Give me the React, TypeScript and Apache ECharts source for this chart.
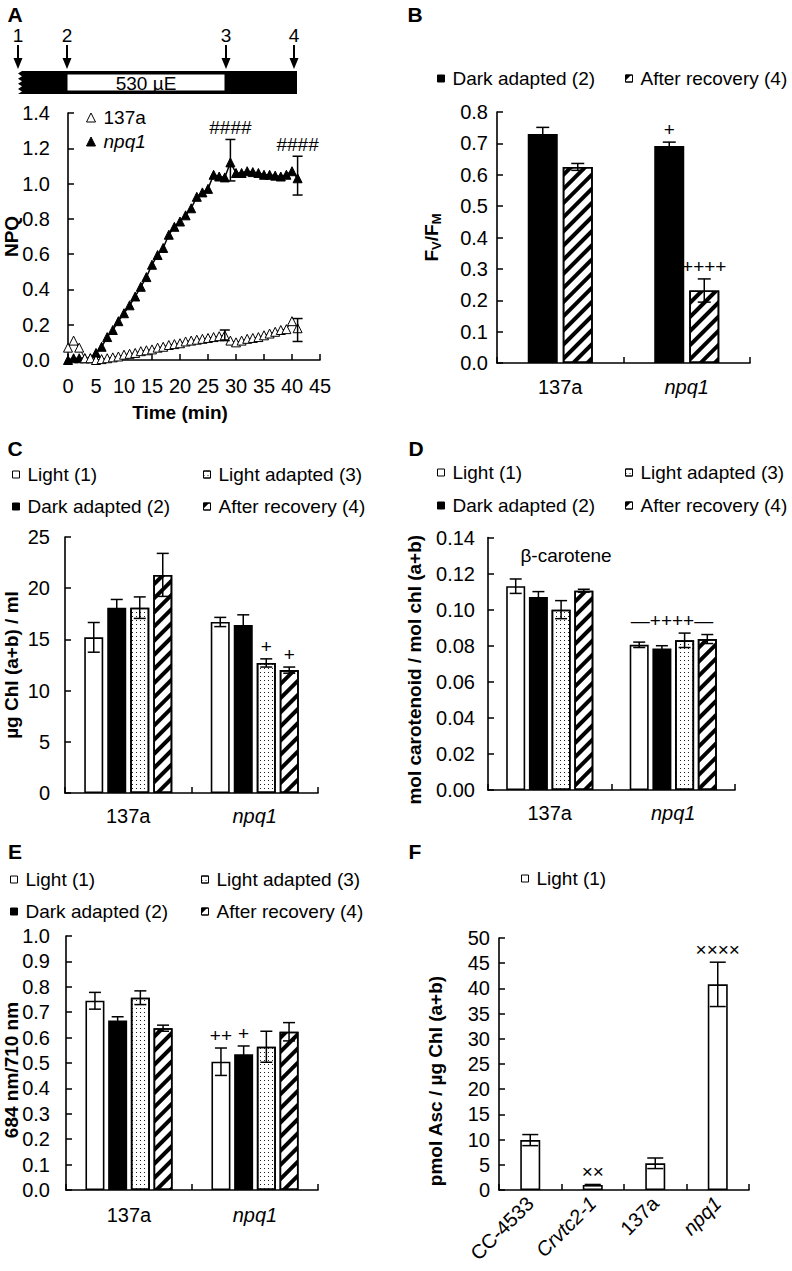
import React, { useEffect, useRef } from 'react';
import * as echarts from 'echarts';

const FONT = '"Liberation Sans", Arial, Helvetica, sans-serif';
const TICK_FS = 20;
const LEG_FS = 19;

// ---------- Panel A : NPQ time course ----------
const timeMin = [0, 1, 2, 3, 4, 5, 6, 7, 8, 9, 10, 11, 12, 13, 14, 15, 16, 17, 18, 19, 20,
  21, 22, 23, 24, 25, 26, 27, 28, 29, 30, 31, 32, 33, 34, 35, 36, 37, 38, 39, 40, 41];
const npq137a = [0.07, 0.11, 0.07, 0.01, 0.01, 0.0, 0.005, 0.01, 0.015, 0.02, 0.03, 0.035, 0.04, 0.05,
  0.055, 0.06, 0.07, 0.075, 0.085, 0.09, 0.095, 0.105, 0.11, 0.115, 0.12, 0.125, 0.13, 0.135, 0.14,
  0.11, 0.10, 0.11, 0.12, 0.125, 0.13, 0.14, 0.15, 0.16, 0.17, 0.175, 0.22, 0.18];
const npqNpq1 = [0.0, 0.01, 0.01, 0.01, 0.01, 0.04, 0.075, 0.13, 0.17, 0.22, 0.265, 0.31, 0.36, 0.415,
  0.47, 0.54, 0.595, 0.635, 0.71, 0.755, 0.785, 0.82, 0.86, 0.925, 0.95, 0.97, 1.05, 1.04, 1.035,
  1.12, 1.06, 1.06, 1.07, 1.065, 1.06, 1.05, 1.05, 1.045, 1.04, 1.05, 1.07, 1.03];
const aErrTime = [29, 41, 28, 41];
const aErrLow = [1.015, 0.935, 0.11, 0.105];
const aErrHigh = [1.25, 1.155, 0.17, 0.235];
const aNotes = ['####', '####', '', ''];

// ---------- Bar panels ----------
const strainCats = ['137a', 'npq1'];

// B: Fv/Fm
const bDark = [0.73, 0.692];
const bDarkErr = [0.021, 0.012];
const bRec = [0.625, 0.231];
const bRecErr = [0.011, 0.037];
const bDarkNotes = ['', '+'];
const bRecNotes = ['', '++++'];

// C: ug Chl / ml
const cLight = [15.2, 16.7];
const cLightErr = [1.45, 0.45];
const cDark = [18.1, 16.4];
const cDarkErr = [0.8, 1.0];
const cLA = [18.1, 12.7];
const cLAErr = [1.05, 0.4];
const cAR = [21.3, 12.0];
const cARErr = [2.1, 0.3];
const cLANotes = ['', '+'];
const cARNotes = ['', '+'];

// D: beta-carotene
const dLight = [0.113, 0.0805];
const dLightErr = [0.004, 0.0015];
const dDark = [0.107, 0.0785];
const dDarkErr = [0.003, 0.0015];
const dLA = [0.1, 0.083];
const dLAErr = [0.005, 0.004];
const dAR = [0.1105, 0.0837];
const dARErr = [0.0008, 0.0025];

// E: 684/710
const eLight = [0.745, 0.505];
const eLightErr = [0.033, 0.054];
const eDark = [0.667, 0.534];
const eDarkErr = [0.015, 0.033];
const eLA = [0.757, 0.564];
const eLAErr = [0.027, 0.061];
const eAR = [0.637, 0.623];
const eARErr = [0.012, 0.036];
const eLightNotes = ['', '++'];
const eDarkNotes = ['', '+'];

// F: ascorbate
const fCats = ['CC-4533', 'Crvtc2-1', '137a', 'npq1'];
const fVals = [9.9, 1.0, 5.3, 40.8];
const fErr = [1.1, 0.1, 1.05, 4.4];
const fNotes = ['', '××', '', '××××'];

const yTicksA = { min: 0, max: 1.4, interval: 0.2 };
const yTicksB = { min: 0, max: 0.8, interval: 0.1 };
const yTicksC = { min: 0, max: 25, interval: 5 };
const yTicksD = { min: 0, max: 0.14, interval: 0.02 };
const yTicksE = { min: 0, max: 1.0, interval: 0.1 };
const yTicksF = { min: 0, max: 50, interval: 5 };

const DOTS = { symbol: 'rect', symbolSize: 1, color: '#222', dashArrayX: [1, 3], dashArrayY: [1, 3], rotation: 0 };
const HATCH = { symbol: 'rect', symbolSize: 1, color: '#000', dashArrayX: [1, 0], dashArrayY: [3.5, 6], rotation: -Math.PI / 4 };

const STYLE: Record<string, any> = {
  'Light (1)': { color: '#fff', borderColor: '#000', borderWidth: 1.6 },
  'Dark adapted (2)': { color: '#000', borderColor: '#000', borderWidth: 1.6 },
  'Light adapted (3)': { color: '#fff', borderColor: '#000', borderWidth: 1.6, decal: DOTS },
  'After recovery (4)': { color: '#fff', borderColor: '#000', borderWidth: 1.6, decal: HATCH },
};

function errSeries(axis: number, data: number[][], offset: number, cap: number, notes?: string[], noteGap = 3) {
  return {
    type: 'custom',
    xAxisIndex: axis,
    yAxisIndex: axis,
    z: 10,
    silent: true,
    clip: false,
    data,
    renderItem: (params: any, api: any) => {
      const lo = api.coord([api.value(0), api.value(1)]);
      const hi = api.coord([api.value(0), api.value(2)]);
      const x = lo[0] + offset;
      const style = { stroke: '#000', lineWidth: 1.5 };
      const children: any[] = [
        { type: 'line', shape: { x1: x, y1: lo[1], x2: x, y2: hi[1] }, style },
        { type: 'line', shape: { x1: x - cap, y1: hi[1], x2: x + cap, y2: hi[1] }, style },
        { type: 'line', shape: { x1: x - cap, y1: lo[1], x2: x + cap, y2: lo[1] }, style },
      ];
      const note = notes ? notes[params.dataIndex] : '';
      if (note) {
        children.push({
          type: 'text',
          style: {
            text: note, x, y: hi[1] - noteGap,
            align: 'center', verticalAlign: 'bottom', textAlign: 'center', textVerticalAlign: 'bottom',
            fontSize: 19, fontFamily: FONT, fill: '#000',
          },
        });
      }
      return { type: 'group', children };
    },
  };
}

function barGroup(axis: number, groups: any[], barWidth: number, gap: number, cap: number) {
  const n = groups.length;
  const out: any[] = [];
  groups.forEach((g) => {
    out.push({
      type: 'bar', name: g.name, xAxisIndex: axis, yAxisIndex: axis, data: g.vals,
      barWidth, barGap: (gap / barWidth * 100).toFixed(1) + '%', itemStyle: STYLE[g.name], z: 2,
    });
  });
  groups.forEach((g, i) => {
    const data = g.vals.map((v: number, j: number) => [j, v - g.errs[j], v + g.errs[j]]);
    out.push(errSeries(axis, data, (i - (n - 1) / 2) * (barWidth + gap), cap, g.notes));
  });
  return out;
}

const axisLineStyle = { lineStyle: { color: '#000', width: 1.6 } };
const tickStyle = { inside: true, length: 6, lineStyle: { color: '#000', width: 1.5 } };
const italicRich = { i: { fontStyle: 'italic', fontSize: TICK_FS, fontFamily: FONT, color: '#000' } };
const nameStyle = { fontFamily: FONT, fontWeight: 'bold', fontSize: 19, color: '#000' };

function yAxis(grid: number, t: any, dec: number, margin: number, name: any, nameGap: number, extra: any = {}) {
  return {
    type: 'value', gridIndex: grid, min: t.min, max: t.max, interval: t.interval,
    axisLine: { show: true, ...axisLineStyle }, axisTick: { show: true, ...tickStyle },
    splitLine: { show: false },
    axisLabel: { color: '#000', fontSize: TICK_FS, fontFamily: FONT, margin, formatter: (v: number) => v.toFixed(dec) },
    name, nameLocation: 'middle', nameGap, nameMoveOverlap: false,
    nameTextStyle: { ...nameStyle, ...(extra.nameTextStyle || {}) },
  };
}

function catAxis(grid: number, cats: string[], margin: number, italic: string[], rotate = 0) {
  return {
    type: 'category', gridIndex: grid, data: cats,
    axisLine: { show: true, ...axisLineStyle }, axisTick: { show: true, ...tickStyle, alignWithLabel: false },
    splitLine: { show: false },
    axisLabel: {
      color: '#000', fontSize: TICK_FS, fontFamily: FONT, margin, rotate, interval: 0,
      formatter: (v: string) => (italic.includes(v) ? '{i|' + v + '}' : v),
      rich: italicRich,
    },
  };
}

function lg(name: string, left: number, cy: number, icon = 'rect', size = 7) {
  return {
    left, top: cy - 10, padding: 0, data: [{ name, icon }], itemWidth: size, itemHeight: size,
    selectedMode: false,
    itemStyle: { borderColor: '#000', borderWidth: 1 },
    formatter: (n: string) => (n === 'npq1' ? '{i|npq1}' : n),
    textStyle: {
      fontSize: LEG_FS, fontFamily: FONT, color: '#000', padding: [0, 0, 0, 3],
      rich: { i: { fontStyle: 'italic', fontSize: LEG_FS, fontFamily: FONT, color: '#000' } },
    },
  };
}

function txt(text: string, x: number, y: number, size: number, weight = 'normal', align = 'center') {
  return {
    type: 'text', x, y, silent: true,
    style: {
      text, x: 0, y: 0, fontSize: size, fontWeight: weight, fontFamily: FONT, fill: '#000',
      align, verticalAlign: 'middle', textAlign: align, textVerticalAlign: 'middle',
    },
  };
}

function arrow(x: number, label: string) {
  return [
    { type: 'line', shape: { x1: x, y1: 45, x2: x, y2: 62 }, style: { stroke: '#000', lineWidth: 2 } },
    { type: 'polygon', shape: { points: [[x - 4.5, 58], [x + 4.5, 58], [x, 69]] }, style: { fill: '#000' } },
    txt(label, x, 35, 19),
  ];
}

export default function App() {
  const ref = useRef<HTMLDivElement>(null);
  useEffect(() => {
    if (!ref.current) return;
    const chart = echarts.init(ref.current, undefined, { renderer: 'svg' });

    const grids = [
      { left: 68, top: 113, width: 252, height: 247 },
      { left: 497, top: 112, width: 253, height: 251 },
      { left: 65, top: 537, width: 253, height: 256 },
      { left: 488, top: 537.5, width: 247, height: 252.5 },
      { left: 66, top: 936, width: 252, height: 254 },
      { left: 499, top: 938, width: 250, height: 252 },
    ].map((g) => ({ ...g, containLabel: false, outerBoundsMode: 'none' }));

    const xAxes = [
      {
        type: 'value', gridIndex: 0, min: 0, max: 45, interval: 5,
        axisLine: { show: true, ...axisLineStyle }, axisTick: { show: true, ...tickStyle },
        splitLine: { show: false },
        axisLabel: { color: '#000', fontSize: TICK_FS, fontFamily: FONT, margin: 16 },
        name: 'Time (min)', nameLocation: 'middle', nameGap: 43,
        nameTextStyle: { ...nameStyle, padding: [0, 28, 0, 0] },
      },
      catAxis(1, strainCats, 14, ['npq1']),
      catAxis(2, strainCats, 13, ['npq1']),
      catAxis(3, strainCats, 13, ['npq1']),
      catAxis(4, strainCats, 15, ['npq1']),
      catAxis(5, fCats, 10, ['Crvtc2-1', 'npq1'], 45),
    ];

    const yAxes = [
      yAxis(0, yTicksA, 1, 18, 'NPQ', 47),
      yAxis(1, yTicksB, 1, 9, '{a|F}{s|V}{a|/F}{s|M}', 54, {
        nameTextStyle: {
          rich: {
            a: { fontFamily: FONT, fontWeight: 'bold', fontSize: 19, lineHeight: 24, color: '#000' },
            s: { fontFamily: FONT, fontWeight: 'bold', fontSize: 13, lineHeight: 13, verticalAlign: 'bottom', color: '#000' },
          },
        },
      }),
      yAxis(2, yTicksC, 0, 15, 'µg Chl (a+b) / ml', 44),
      yAxis(3, yTicksD, 2, 13, 'mol carotenoid / mol chl (a+b)', 64, { nameTextStyle: { padding: [0, 12, 0, 0] } }),
      yAxis(4, yTicksE, 1, 16, '684 nm/710 nm', 45, { nameTextStyle: { padding: [0, 14, 0, 0] } }),
      yAxis(5, yTicksF, 0, 9, 'pmol Asc / µg Chl (a+b)', 54, { nameTextStyle: { padding: [0, 34, 0, 0] } }),
    ];

    const series: any[] = [
      {
        type: 'line', name: '137a', xAxisIndex: 0, yAxisIndex: 0,
        data: timeMin.map((t, i) => [t, npq137a[i]]),
        symbol: 'triangle', symbolSize: 9, showSymbol: true,
        itemStyle: { color: '#fff', borderColor: '#000', borderWidth: 1 },
        lineStyle: { color: '#000', width: 1 }, z: 4,
      },
      {
        type: 'line', name: 'npq1', xAxisIndex: 0, yAxisIndex: 0,
        data: timeMin.map((t, i) => [t, npqNpq1[i]]),
        symbol: 'triangle', symbolSize: 9, showSymbol: true,
        itemStyle: { color: '#000', borderColor: '#000', borderWidth: 1 },
        lineStyle: { color: '#000', width: 1.5 }, z: 3,
      },
      errSeries(0, aErrTime.map((t, i) => [t, aErrLow[i], aErrHigh[i]]), 0, 5, aNotes, 2),
      ...barGroup(1, [
        { name: 'Dark adapted (2)', vals: bDark, errs: bDarkErr, notes: bDarkNotes },
        { name: 'After recovery (4)', vals: bRec, errs: bRecErr, notes: bRecNotes },
      ], 30, 5, 6.5),
      ...barGroup(2, [
        { name: 'Light (1)', vals: cLight, errs: cLightErr },
        { name: 'Dark adapted (2)', vals: cDark, errs: cDarkErr },
        { name: 'Light adapted (3)', vals: cLA, errs: cLAErr, notes: cLANotes },
        { name: 'After recovery (4)', vals: cAR, errs: cARErr, notes: cARNotes },
      ], 19, 4, 6),
      ...barGroup(3, [
        { name: 'Light (1)', vals: dLight, errs: dLightErr },
        { name: 'Dark adapted (2)', vals: dDark, errs: dDarkErr },
        { name: 'Light adapted (3)', vals: dLA, errs: dLAErr },
        { name: 'After recovery (4)', vals: dAR, errs: dARErr },
      ], 19, 3.7, 6),
      ...barGroup(4, [
        { name: 'Light (1)', vals: eLight, errs: eLightErr, notes: eLightNotes },
        { name: 'Dark adapted (2)', vals: eDark, errs: eDarkErr, notes: eDarkNotes },
        { name: 'Light adapted (3)', vals: eLA, errs: eLAErr },
        { name: 'After recovery (4)', vals: eAR, errs: eARErr },
      ], 19, 3.7, 6),
      ...barGroup(5, [
        { name: 'Light (1)', vals: fVals, errs: fErr, notes: fNotes },
      ], 20, 0, 8),
    ];

    const legends = [
      lg('137a', 86, 118, 'triangle', 9),
      lg('npq1', 86, 142, 'triangle', 9),
      lg('Dark adapted (2)', 437, 79),
      lg('After recovery (4)', 625, 79),
      lg('Light (1)', 12, 475),
      lg('Light adapted (3)', 203, 475),
      lg('Dark adapted (2)', 12, 507),
      lg('After recovery (4)', 203, 507),
      lg('Light (1)', 437, 473),
      lg('Light adapted (3)', 625, 473),
      lg('Dark adapted (2)', 437, 506),
      lg('After recovery (4)', 625, 506),
      lg('Light (1)', 10, 880),
      lg('Light adapted (3)', 201, 880),
      lg('Dark adapted (2)', 10, 912),
      lg('After recovery (4)', 201, 912),
      lg('Light (1)', 521, 879),
    ];

    const jag: number[][] = [[297, 71], [297, 94], [18, 94]];
    for (let k = 0; k < 9; k++) {
      jag.push([k % 2 === 0 ? 22 : 18, 94 - (k + 1) * 2.55]);
    }

    const graphic: any[] = [
      txt('A', 15, 14, 21, 'bold'),
      txt('B', 415, 14, 21, 'bold'),
      txt('C', 15, 448, 21, 'bold'),
      txt('D', 416, 448, 21, 'bold'),
      txt('E', 15, 851, 21, 'bold'),
      txt('F', 415, 851, 21, 'bold'),
      { type: 'polygon', shape: { points: jag }, style: { fill: '#000' } },
      { type: 'rect', shape: { x: 67, y: 74, width: 158, height: 17 }, style: { fill: '#fff', stroke: '#000', lineWidth: 1 } },
      txt('530 µE', 146, 83, 19),
      ...arrow(18, '1'),
      ...arrow(67, '2'),
      ...arrow(226, '3'),
      ...arrow(294, '4'),
      txt('β-carotene', 566, 555, 19),
      txt('—++++—', 672, 620, 19),
    ];

    chart.setOption({
      animation: false,
      backgroundColor: '#fff',
      textStyle: { fontFamily: FONT },
      grid: grids,
      xAxis: xAxes,
      yAxis: yAxes,
      legend: legends,
      series,
      graphic,
    });
    return () => chart.dispose();
  }, []);

  return (
    <div
      ref={ref}
      style={{ position: 'absolute', left: 0, top: 0, width: 792, height: 1271, background: '#fff' }}
    />
  );
}
